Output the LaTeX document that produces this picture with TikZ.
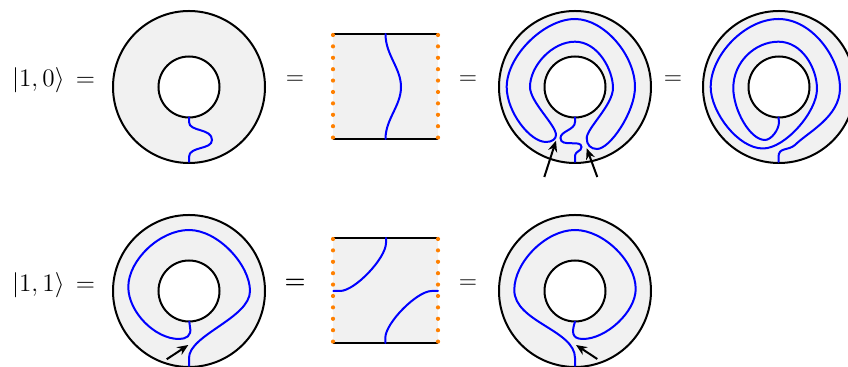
\documentclass[tikz,border=0pt]{standalone}
\usepackage{amsmath}
\usetikzlibrary{arrows.meta}

\definecolor{annulusgray}{HTML}{F1F1F1}
\definecolor{dotorange}{HTML}{FF8000}
\tikzset{
  strand/.style={blue, line width=1pt, line cap=round},
  rim/.style={black, line width=1pt},
  pointer/.style={black, line width=1pt, -{Stealth[length=5.5pt, width=4.6pt, inset=1.8pt]}},
  lab/.style={anchor=base, inner sep=0pt, font=\fontsize{13}{15}\selectfont},
  ketlab/.style={lab, scale=1.05}
}

\begin{document}
\begin{tikzpicture}[x=0.5pt, y=-0.5pt]
      \useasboundingbox (0,0) rectangle (848,367);
      % annuli
      \foreach \cx/\cy in {189/87, 575/87, 779/87, 189/291, 575/291} {
        \fill[annulusgray] (\cx,\cy) circle (38pt);
        \fill[white] (\cx,\cy) circle (15.25pt);
        \draw[rim] (\cx,\cy) circle (38pt);
        \draw[rim] (\cx,\cy) circle (15.25pt);
      }
      % squares
      \foreach \ytop in {34, 238} {
        \fill[annulusgray] (333,\ytop) rectangle (438,\ytop+105);
        \draw[rim] (333,\ytop) -- (438,\ytop);
        \draw[rim] (333,\ytop+105) -- (438,\ytop+105);
        \foreach \k in {0,...,9} {
          \fill[dotorange] (333,\ytop+1+\k*11.4) circle (1.05pt);
          \fill[dotorange] (438,\ytop+1+\k*11.4) circle (1.05pt);
        }
      }
      % first row
      \draw[strand] (189,117.5) -- (189,122) .. controls (189,132) and (212,128) .. (212,140)
        .. controls (212,150) and (189,146) .. (189,157) -- (189,162);
      \draw[strand] (385.5,34) .. controls (385.5,55) and (401,68) .. (401,87)
        .. controls (401,106) and (385.5,119) .. (385.5,139);
      \draw[strand] (530,87) .. controls (530,66) and (552,41.7) .. (575,41.7)
        .. controls (598,41.7) and (613,70) .. (613,88)
        .. controls (613,105) and (587,128) .. (586.7,138)
        .. controls (586.5,145) and (591,149) .. (597,149)
        .. controls (610,149) and (635,112) .. (635,87)
        .. controls (635,55) and (604,19) .. (575,19)
        .. controls (544,19) and (506.7,56) .. (506.7,87)
        .. controls (506.7,112) and (530,142) .. (546,142)
        .. controls (552,142) and (556,139) .. (556,135)
        .. controls (556,125) and (530,102) .. (530,87) -- cycle;
      \draw[strand] (575,117.5) -- (575,122) .. controls (575,130) and (560.5,131) .. (560.5,138)
        .. controls (560.5,148) and (581.5,139) .. (581.5,147)
        .. controls (581.5,152) and (575,150) .. (575,157) -- (575,162);
      \draw[strand] (778.5,117.5) -- (779,122) .. controls (779,130) and (771,140) .. (765,140)
        .. controls (750,140) and (733.3,110) .. (733.3,88)
        .. controls (733.3,62) and (755,41.7) .. (778.5,41.7)
        .. controls (802,41.7) and (817,68) .. (817,89)
        .. controls (817,112) and (785,148.5) .. (763,148.5)
        .. controls (738,148.5) and (710.7,112) .. (710.7,87)
        .. controls (710.7,55) and (745,19) .. (778.5,19)
        .. controls (812,19) and (840,58) .. (840,88)
        .. controls (840,117) and (808,132) .. (795,145)
        .. controls (788,151) and (778.5,147) .. (778.5,157) -- (778.5,162);
      % second row
      \draw[strand] (189.3,321.7) -- (190,327) .. controls (192,336) and (186,339) .. (179,339)
        .. controls (155,339) and (128.3,312) .. (128.3,287)
        .. controls (128.3,260) and (160,230) .. (189,230)
        .. controls (218,230) and (250,265) .. (250,291)
        .. controls (250,318) and (189,335) .. (189,358) -- (189,366);
      \draw[strand] (386,238) -- (386,243) .. controls (386,258) and (355,291) .. (340,291) -- (333.3,291);
      \draw[strand] (438,291) -- (431.7,291) .. controls (417,291) and (385.3,323) .. (385.3,338) -- (385.3,343);
      \draw[strand] (575,321.7) .. controls (572,331) and (571,339) .. (583,339)
        .. controls (606,339) and (635.7,312) .. (635.7,289)
        .. controls (635.7,262) and (604,230) .. (575,230)
        .. controls (546,230) and (514.3,262) .. (514.3,290)
        .. controls (514.3,322) and (575,330) .. (575,358) -- (575,366);
      % arrows
      \draw[pointer] (544.3,177) -- (556,140.7);
      \draw[pointer] (597.3,177) -- (586.7,148.3);
      \draw[pointer] (166.7,359.3) -- (188.3,345);
      \draw[pointer] (597.3,359) -- (576,345);
      % labels
      \node[ketlab] (ketone) at (53.5,86.5) {$|1,0\rangle\,=$};
      \node[lab] (eqa) at (295,84.5) {$=$};
      \node[lab] (eqb) at (468,84.5) {$=$};
      \node[lab] (eqc) at (673,84.5) {$=$};
      \node[ketlab] (kettwo) at (53.5,291.5) {$|1,1\rangle\,=$};
      \node[lab] (eqd) at (295,288.5) {$\boldsymbol{=}$};
      \node[lab] (eqe) at (468,288.5) {$=$};
    \end{tikzpicture}
\end{document}
